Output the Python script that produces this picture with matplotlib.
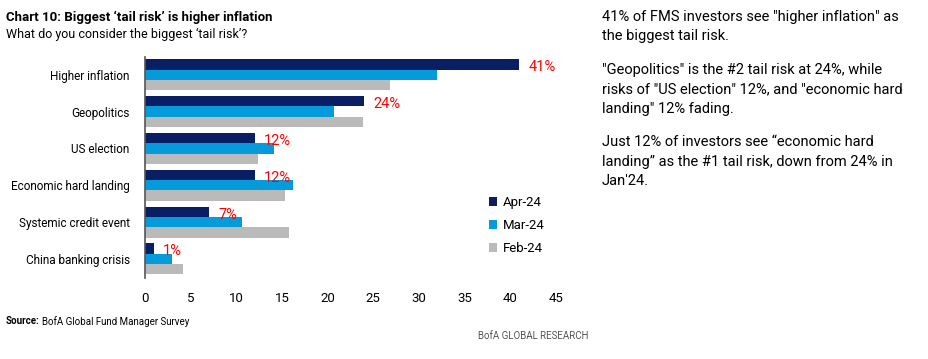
import matplotlib
matplotlib.use("Agg")
import matplotlib.pyplot as plt
import numpy as np
from matplotlib.patches import Patch

plt.rcParams['font.family'] = ['Roboto', 'DejaVu Sans']

categories = ["Higher inflation", "Geopolitics", "US election",
              "Economic hard landing", "Systemic credit event", "China banking crisis"]
apr24 = [41, 24, 12, 12, 7, 1]
mar24 = [32, 20.7, 14.1, 16.2, 10.6, 3.0]
feb24 = [26.8, 23.9, 12.4, 15.3, 15.8, 4.2]
series_names = ["Apr-24", "Mar-24", "Feb-24"]
labels = ["41%", "24%", "12%", "12%", "7%", "1%"]
xticks = [0, 5, 10, 15, 20, 25, 30, 35, 40, 45]

colors = ["#0A1F63", "#059BDB", "#BABABA"]

fig = plt.figure(figsize=(9.29, 3.59), dpi=100)
ax = fig.add_axes([0.156, 0.2256, 0.4425, 0.6154])

n = len(categories)
y = np.arange(n)
h = 0.28
for i, (vals, c) in enumerate(zip([apr24, mar24, feb24], colors)):
    ax.barh(y + (i - 1) * h, vals, height=h, color=c, edgecolor='none')

for yi, v, lab in zip(y, apr24, labels):
    ax.text(v + 1.0, yi - h + 0.08, lab, color="#FF0000", fontsize=10.5,
            va='center', ha='left')

ax.set_ylim(n - 0.5 + 0.02, -0.5 + 0.02)
ax.set_xlim(0, 45)
ax.set_yticks(y)
ax.set_yticklabels(categories, fontsize=8.5)
ax.set_xticks(xticks)
ax.set_xticklabels([str(t) for t in xticks], fontsize=9.5)
ax.tick_params(axis='both', length=0)
ax.tick_params(axis='y', pad=11)
ax.tick_params(axis='x', pad=10)
for s in ['top', 'right', 'bottom']:
    ax.spines[s].set_visible(False)
ax.spines['left'].set_color('#555555')
ax.spines['left'].set_linewidth(1.2)

handles = [Patch(facecolor=c, edgecolor='none') for c in colors]
leg = ax.legend(handles, series_names, loc='lower right', bbox_to_anchor=(1.0, 0.05),
                frameon=False, fontsize=9.5, handlelength=0.6, handleheight=0.6,
                handletextpad=0.4, labelspacing=0.75)

fig.text(0.006, 0.953, "Chart 10: Biggest \u2018tail risk\u2019 is higher inflation",
         fontsize=9.5, fontweight='bold', va='center', ha='left')
fig.text(0.006, 0.903, "What do you consider the biggest \u2018tail risk\u2019?",
         fontsize=9, va='center', ha='left')

t1 = fig.text(0.006, 0.105, "Source:", fontsize=7, fontweight='bold',
              va='center', ha='left')
fig.canvas.draw()
bb = t1.get_window_extent().transformed(fig.transFigure.inverted())
fig.text(bb.x1 + 0.003, 0.105, "BofA Global Fund Manager Survey",
         fontsize=7, va='center', ha='left')
fig.text(0.633, 0.065, "BofA GLOBAL RESEARCH", fontsize=7, color='#555555',
         va='center', ha='right')

right_text = [
    (0.953, "41% of FMS investors see \"higher inflation\" as"),
    (0.900, "the biggest tail risk."),
    (0.805, "\"Geopolitics\" is the #2 tail risk at 24%, while"),
    (0.752, "risks of \"US election\" 12%, and \"economic hard"),
    (0.697, "landing\" 12% fading."),
    (0.605, "Just 12% of investors see \u201ceconomic hard"),
    (0.550, "landing\u201d as the #1 tail risk, down from 24% in"),
    (0.497, "Jan'24."),
]
for yy, t in right_text:
    fig.text(0.648, yy, t, fontsize=10.5, va='center', ha='left')

fig.savefig("out.png", dpi=100)
